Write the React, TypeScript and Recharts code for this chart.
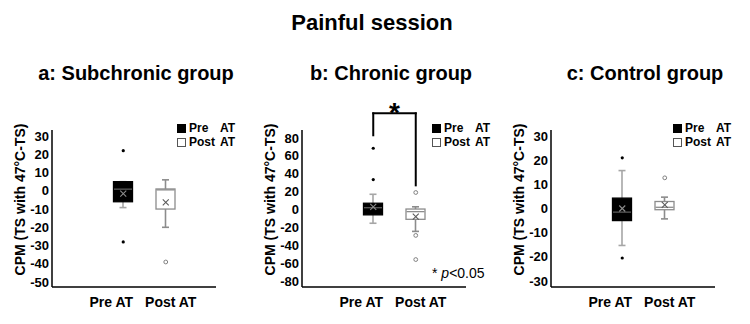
import React from 'react';
import { ComposedChart, Bar, Scatter, XAxis, YAxis, ReferenceLine, Legend, Label } from 'recharts';

const FONT = '"Liberation Sans", Arial, Helvetica, sans-serif';

const chartTitle = 'Painful session';
const panelTitles = ['a: Subchronic group', 'b: Chronic group', 'c: Control group'];
const yAxisTitle = 'CPM (TS with 47°C-TS)';
const categories = ['Pre AT', 'Post AT'];
const legendNames = ['Pre', 'Post'];
const legendSuffix = 'AT';
const significanceMark = '*';
const pNoteParts = ['* ', 'p', '<0.05'];

// Every array below is ordered [Pre AT, Post AT]
// a: Subchronic group
const subLow = [-9.2, -20];
const subQ1 = [-6, -10];
const subMedian = [0.9, 0.5];
const subQ3 = [5, 1];
const subHigh = [5, 6];
const subMean = [-1.5, -6.4];
const subOutliersPre = [22, -28];
const subOutliersPost = [-39];
const subTicks = [30, 20, 10, 0, -10, -20, -30, -40, -50];

// b: Chronic group
const chrLow = [-15.4, -24.5];
const chrQ1 = [-6, -11];
const chrMedian = [2, -2.4];
const chrQ3 = [7, 0.5];
const chrHigh = [17, 3];
const chrMean = [3, -8];
const chrOutliersPre = [68.5, 33.5];
const chrOutliersPost = [19, -29, -56];
const chrTicks = [80, 60, 40, 20, 0, -20, -40, -60, -80];
// significance bracket: [Pre end, bar height, Post end]
const chrBracket = [83, 107.5, 27];

// c: Control group
const conLow = [-15.3, -4.3];
const conQ1 = [-5, -0.5];
const conMedian = [-1.5, 0.5];
const conQ3 = [4.3, 2.9];
const conHigh = [15.7, 4.7];
const conMean = [0, 1.5];
const conOutliersPre = [21, -20.5];
const conOutliersPost = [12.7];
const conTicks = [30, 20, 10, 0, -10, -20, -30];

// series styling, ordered [Pre AT, Post AT]
const boxFill = ['#000000', '#ffffff'];
const boxStroke = ['#000000', '#8c8c8c'];
const medianColor = ['#5a5a5a', '#8c8c8c'];
const whiskerColor = ['#a6a6a6', '#8c8c8c'];
const meanColor = ['#8c8c8c', '#595959'];
const labelShift = [-12, 5];

type Row = {
  name: string;
  whisker: [number, number];
  box: [number, number];
  q1: number;
  median: number;
  q3: number;
  mean: number;
};

function buildRows(low: number[], q1: number[], median: number[], q3: number[], high: number[], mean: number[]): Row[] {
  return categories.map((name, i) => ({
    name,
    whisker: [low[i], high[i]],
    box: [q1[i], q3[i]],
    q1: q1[i],
    median: median[i],
    q3: q3[i],
    mean: mean[i],
  }));
}

function buildOutliers(values: number[], catIndex: number) {
  return values.map((v) => ({ name: categories[catIndex], value: v }));
}

const catIndex = (name: string) => Math.max(0, categories.indexOf(name));

const WhiskerShape = (props: any) => {
  const { x, y, width, height, payload } = props;
  if (x == null || y == null) return null;
  const i = catIndex(payload?.name);
  const cx = x + width / 2;
  const top = Math.min(y, y + height);
  const bottom = Math.max(y, y + height);
  const cap = 3.5;
  const c = whiskerColor[i];
  return (
    <g>
      <line x1={cx} x2={cx} y1={top} y2={bottom} stroke={c} strokeWidth={1.6} />
      <line x1={cx - cap} x2={cx + cap} y1={top} y2={top} stroke={c} strokeWidth={1.6} />
      <line x1={cx - cap} x2={cx + cap} y1={bottom} y2={bottom} stroke={c} strokeWidth={1.6} />
    </g>
  );
};

const BoxShape = (props: any) => {
  const { x, y, width, height, payload } = props;
  if (x == null || y == null) return null;
  const i = catIndex(payload?.name);
  const top = Math.min(y, y + height);
  const h = Math.abs(height);
  const span = payload.q3 - payload.q1;
  const medianY = span > 0 ? top + (h * (payload.q3 - payload.median)) / span : top;
  return (
    <g>
      <rect x={x + 0.5} y={top} width={width - 1} height={h} fill={boxFill[i]} stroke={boxStroke[i]} strokeWidth={1.3} />
      <line x1={x + 1} x2={x + width - 1} y1={medianY} y2={medianY} stroke={medianColor[i]} strokeWidth={1.3} />
    </g>
  );
};

const MeanMark = (props: any) => {
  const { cx, cy, payload } = props;
  if (cx == null || cy == null) return null;
  const i = catIndex(payload?.name);
  const s = 3;
  return (
    <g stroke={meanColor[i]} strokeWidth={1.1}>
      <line x1={cx - s} y1={cy - s} x2={cx + s} y2={cy + s} />
      <line x1={cx - s} y1={cy + s} x2={cx + s} y2={cy - s} />
    </g>
  );
};

const PreOutlier = (props: any) => {
  const { cx, cy } = props;
  if (cx == null || cy == null) return null;
  return <circle cx={cx} cy={cy} r={1.6} fill="#000" />;
};

const PostOutlier = (props: any) => {
  const { cx, cy } = props;
  if (cx == null || cy == null) return null;
  return <circle cx={cx} cy={cy} r={1.9} fill="#fff" stroke="#808080" strokeWidth={1} />;
};

const XTick = (props: any) => {
  const { x, y, payload } = props;
  const i = catIndex(payload?.value);
  return (
    <text x={x + labelShift[i]} y={y} dy="0.71em" textAnchor="middle" fontFamily={FONT} fontSize={14} fontWeight={700} fill="#000">
      {payload?.value}
    </text>
  );
};

const YTitle = (props: any) => {
  const vb = props.viewBox || { x: 12, y: 130, width: 40, height: 157 };
  const x = vb.x + 8;
  const y = vb.y + vb.height / 2 - 9;
  return (
    <text
      x={x}
      y={y}
      transform={`rotate(-90 ${x} ${y})`}
      textAnchor="middle"
      dominantBaseline="central"
      fontFamily={FONT}
      fontSize={14}
      fontWeight={700}
      fill="#000"
    >
      {yAxisTitle}
    </text>
  );
};

const LegendBox = () => (
  <div style={{ fontFamily: FONT, fontSize: 12, fontWeight: 700, color: '#000', lineHeight: '14px' }}>
    {legendNames.map((n, i) => (
      <div key={n} style={{ display: 'flex', alignItems: 'center', height: 14 }}>
        <span
          style={{
            display: 'inline-block',
            width: 9,
            height: 9,
            boxSizing: 'border-box',
            background: boxFill[i],
            border: `1px solid ${i === 0 ? '#000' : '#555'}`,
            marginRight: 3,
          }}
        />
        <span style={{ display: 'inline-block', width: 31 }}>{n}</span>
        <span>{legendSuffix}</span>
      </div>
    ))}
  </div>
);

const StarLabel = (props: any) => {
  const vb = props.viewBox || { x: 0, y: 0, width: 0 };
  return (
    <text
      x={vb.x + (vb.width || 0) / 2}
      y={vb.y + 9}
      textAnchor="middle"
      fontFamily={FONT}
      fontSize={28}
      fontWeight={700}
      fill="#000"
    >
      {significanceMark}
    </text>
  );
};

type PanelProps = {
  left: number;
  rows: Row[];
  outPre: { name: string; value: number }[];
  outPost: { name: string; value: number }[];
  domain: [number, number];
  ticks: number[];
  legendLeft: number;
  bracket?: number[];
};

function Panel({ left, rows, outPre, outPost, domain, ticks, legendLeft, bracket }: PanelProps) {
  const axisLine = { stroke: '#000', strokeWidth: 1.5 };
  return (
    <div style={{ position: 'absolute', left, top: 0 }}>
      <ComposedChart width={250} height={324} data={rows} margin={{ top: 130, right: 34, bottom: 7, left: 12 }} barGap={-20}>
        <XAxis
          dataKey="name"
          type="category"
          allowDuplicatedCategory={false}
          padding={{ left: 50, right: 29 }}
          height={30}
          axisLine={axisLine}
          tickLine={false}
          tickMargin={4}
          interval={0}
          tick={<XTick />}
        />
        <YAxis
          type="number"
          domain={domain}
          ticks={ticks}
          allowDataOverflow
          width={40}
          axisLine={axisLine}
          tickLine={false}
          tickSize={1}
          tickMargin={2}
          interval={0}
          tick={{ fill: '#000', fontSize: 13, fontWeight: 700, fontFamily: FONT }}
        >
          <Label content={<YTitle />} />
        </YAxis>
        <Legend
          layout="vertical"
          align="center"
          verticalAlign="middle"
          wrapperStyle={{ left: legendLeft, top: 121, width: 72 }}
          content={() => <LegendBox />}
        />
        <Bar dataKey="whisker" barSize={20} shape={(p: any) => <WhiskerShape {...p} />} isAnimationActive={false} />
        <Bar dataKey="box" barSize={20} shape={(p: any) => <BoxShape {...p} />} isAnimationActive={false} />
        <Scatter dataKey="mean" shape={(p: any) => <MeanMark {...p} />} isAnimationActive={false} />
        <Scatter data={outPre} dataKey="value" shape={(p: any) => <PreOutlier {...p} />} isAnimationActive={false} />
        <Scatter data={outPost} dataKey="value" shape={(p: any) => <PostOutlier {...p} />} isAnimationActive={false} />
        {bracket && (
          <ReferenceLine
            segment={[{ x: categories[0], y: bracket[0] }, { x: categories[0], y: bracket[1] }]}
            stroke="#000"
            strokeWidth={2}
            strokeLinecap="square"
            ifOverflow="visible"
          />
        )}
        {bracket && (
          <ReferenceLine
            segment={[{ x: categories[0], y: bracket[1] }, { x: categories[1], y: bracket[1] }]}
            stroke="#000"
            strokeWidth={2}
            strokeLinecap="square"
            ifOverflow="visible"
            label={<StarLabel />}
          />
        )}
        {bracket && (
          <ReferenceLine
            segment={[{ x: categories[1], y: bracket[1] }, { x: categories[1], y: bracket[2] }]}
            stroke="#000"
            strokeWidth={2}
            strokeLinecap="square"
            ifOverflow="visible"
          />
        )}
      </ComposedChart>
    </div>
  );
}

export default function App() {
  return (
    <div style={{ position: 'absolute', left: 0, top: 0, width: 750, height: 324, background: '#fff', overflow: 'hidden' }}>
      <Panel
        left={0}
        rows={buildRows(subLow, subQ1, subMedian, subQ3, subHigh, subMean)}
        outPre={buildOutliers(subOutliersPre, 0)}
        outPost={buildOutliers(subOutliersPost, 1)}
        domain={[-52.7, 33.3]}
        ticks={subTicks}
        legendLeft={177}
      />
      <Panel
        left={250}
        rows={buildRows(chrLow, chrQ1, chrMedian, chrQ3, chrHigh, chrMean)}
        outPre={buildOutliers(chrOutliersPre, 0)}
        outPost={buildOutliers(chrOutliersPost, 1)}
        domain={[-86.7, 88.9]}
        ticks={chrTicks}
        legendLeft={182}
        bracket={chrBracket}
      />
      <Panel
        left={499}
        rows={buildRows(conLow, conQ1, conMedian, conQ3, conHigh, conMean)}
        outPre={buildOutliers(conOutliersPre, 0)}
        outPost={buildOutliers(conOutliersPost, 1)}
        domain={[-32.5, 32.5]}
        ticks={conTicks}
        legendLeft={174}
      />
      <svg width={750} height={324} style={{ position: 'absolute', left: 0, top: 0, pointerEvents: 'none' }}>
        <text x={372} y={30} textAnchor="middle" fontFamily={FONT} fontSize={22} fontWeight={700} fill="#000">
          {chartTitle}
        </text>
        <text x={136} y={80} textAnchor="middle" fontFamily={FONT} fontSize={20} fontWeight={700} fill="#000">
          {panelTitles[0]}
        </text>
        <text x={391} y={80} textAnchor="middle" fontFamily={FONT} fontSize={20} fontWeight={700} fill="#000">
          {panelTitles[1]}
        </text>
        <text x={645} y={80} textAnchor="middle" fontFamily={FONT} fontSize={20} fontWeight={700} fill="#000">
          {panelTitles[2]}
        </text>
        <text x={432} y={278} fontFamily={FONT} fontSize={14} fill="#000" style={{ whiteSpace: 'pre' }}>
          {pNoteParts[0]}
          <tspan fontStyle="italic">{pNoteParts[1]}</tspan>
          {pNoteParts[2]}
        </text>
      </svg>
    </div>
  );
}
